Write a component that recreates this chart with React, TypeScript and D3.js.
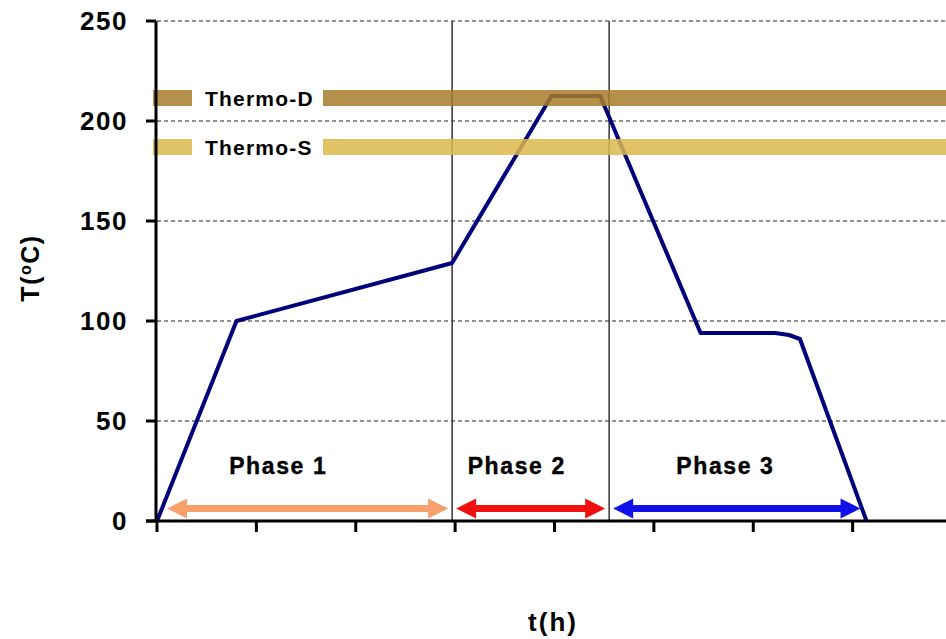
import React from "react";
import * as d3 from "d3";

const timeH = [0, 0.8, 2.97, 3.97, 4.46, 5.47, 6.22, 6.36, 6.47, 7.14];
const tempC = [0, 100, 129, 212.5, 212.5, 94, 94, 93, 91, 0];
const yTicks = [0, 50, 100, 150, 200, 250];
const xTicks = [0, 1, 2, 3, 4, 5, 6, 7];
const phaseBounds = [0, 2.97, 4.55, 7.12];
const phaseNames = ["Phase 1", "Phase 2", "Phase 3"];
const phaseLabelAt = [1.22, 3.62, 5.72];
const phaseColors = ["#f8a06c", "#f01010", "#1010e8"];
const bandNames = ["Thermo-D", "Thermo-S"];
const bandTemps = [211.5, 187];
const bandColors = ["#a87c2c", "#dcb84c"];

const W = 946;
const H = 639;
const x = d3.scaleLinear().domain([0, 8]).range([157, 952]);
const y = d3.scaleLinear().domain([0, 250]).range([521, 21]);

function Arrow({ x1, x2, yy, color }: { x1: number; x2: number; yy: number; color: string }) {
  const hl = 20, hh = 10, sh = 3.5;
  const d = `M${x1},${yy} L${x1 + hl},${yy - hh} L${x1 + hl},${yy - sh} L${x2 - hl},${yy - sh} L${x2 - hl},${yy - hh} L${x2},${yy} L${x2 - hl},${yy + hh} L${x2 - hl},${yy + sh} L${x1 + hl},${yy + sh} L${x1 + hl},${yy + hh} Z`;
  return <path d={d} fill={color} />;
}

export default function App() {
  const pts: [number, number][] = timeH.map((t, i) => [x(t), y(tempC[i])]);
  const line = d3.line()(pts) || "";
  const font = "'Liberation Sans', Arial, sans-serif";
  return (
    <svg width={W} height={H} style={{ position: "absolute", left: 0, top: 0, background: "#fff" }}>
      {yTicks.slice(1).map((t) => (
        <line key={t} x1={157} x2={W} y1={y(t)} y2={y(t)} stroke="#222" strokeWidth={1} strokeDasharray="4,3" />
      ))}
      {phaseBounds.slice(1, 3).map((b) => (
        <line key={b} x1={x(b)} x2={x(b)} y1={y(250)} y2={y(0)} stroke="#333" strokeWidth={1.5} />
      ))}
      <path d={line} fill="none" stroke="#00007a" strokeWidth={4} strokeLinejoin="round" />
      {bandTemps.map((bt, i) => (
        <g key={i} opacity={0.85}>
          <rect x={153} y={y(bt + 4)} width={39} height={y(bt - 4) - y(bt + 4)} fill={bandColors[i]} />
          <rect x={323} y={y(bt + 4)} width={W - 323} height={y(bt - 4) - y(bt + 4)} fill={bandColors[i]} />
        </g>
      ))}
      {bandTemps.map((bt, i) => (
        <text key={i} x={205} y={y(bt)} dy="0.36em" fontFamily={font} fontWeight="bold" fontSize={21} letterSpacing={1.2} fill="#000">
          {bandNames[i]}
        </text>
      ))}
      {phaseNames.map((n, i) => {
        const a = phaseBounds[i], b = phaseBounds[i + 1];
        const x1 = x(a) + (i === 0 ? 10 : 4);
        const x2 = x(b) - 4;
        return (
          <g key={n}>
            <text x={x(phaseLabelAt[i])} y={474} textAnchor="middle" fontFamily={font} fontWeight="bold" fontSize={23} letterSpacing={1.6} stroke="#000" strokeWidth={0.4}>
              {n}
            </text>
            <Arrow x1={x1} x2={x2} yy={508.5} color={phaseColors[i]} />
          </g>
        );
      })}
      <line x1={156} x2={156} y1={y(250)} y2={y(0)} stroke="#000" strokeWidth={3} />
      <line x1={146} x2={W} y1={y(0)} y2={y(0)} stroke="#000" strokeWidth={3} />
      {yTicks.map((t) => (
        <g key={t}>
          <line x1={146} x2={156} y1={y(t)} y2={y(t)} stroke="#000" strokeWidth={3} />
          <text x={128} y={y(t)} dy="0.36em" textAnchor="end" fontFamily={font} fontWeight="bold" fontSize={26} letterSpacing={1.5}>
            {t}
          </text>
        </g>
      ))}
      {xTicks.map((t) => (
        <line key={t} x1={x(t)} x2={x(t)} y1={y(0)} y2={y(0) + 11} stroke="#000" strokeWidth={3} />
      ))}
      <text transform="translate(30,268) rotate(-90)" textAnchor="middle" dy="0.36em" fontFamily={font} fontWeight="bold" fontSize={25} letterSpacing={1.5}>
        T(<tspan fontSize={16} dy="-8">o</tspan><tspan dy="8">C)</tspan>
      </text>
      <text x={553} y={631} textAnchor="middle" fontFamily={font} fontWeight="bold" fontSize={26} letterSpacing={2}>
        t(h)
      </text>
    </svg>
  );
}
